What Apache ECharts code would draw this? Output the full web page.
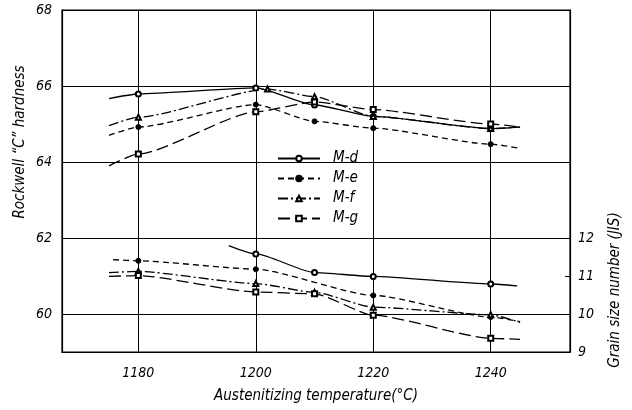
<!DOCTYPE html>
<html><head><meta charset="utf-8">
<script src="https://cdn.jsdelivr.net/npm/echarts@6/dist/echarts.min.js"></script>
<style>html,body{margin:0;padding:0;background:#fff}#c{width:632px;height:410px}</style>
</head><body><div id="c"></div>
<script>
const seriesNames = ['M-d', 'M-e', 'M-f', 'M-g'];
const xTicks = [1180, 1200, 1220, 1240];
const hardTicks = [60, 62, 64, 66, 68];
const grainTicks = [9, 10, 11, 12];
const grainMinorTicks = [10, 11];
const xName = 'Austenitizing temperature(°C)';
const yName = 'Rockwell “C” hardness';
const y2Name = 'Grain size number (JIS)';

// Hardness curves (first and last entries are the drawn curve ends, without markers)
const mdHardT = [1175, 1180, 1200, 1210, 1220, 1240, 1245];
const mdHard  = [65.67, 65.79, 65.95, 65.50, 65.20, 64.88, 64.92];
const meHardT = [1175, 1180, 1200, 1210, 1220, 1240, 1245];
const meHard  = [64.70, 64.92, 65.51, 65.07, 64.89, 64.47, 64.36];
const mfHardT = [1175, 1180, 1202, 1210, 1220, 1240, 1245];
const mfHard  = [64.96, 65.18, 65.92, 65.72, 65.20, 64.88, 64.92];
const mgHardT = [1175, 1180, 1200, 1210, 1220, 1240, 1245];
const mgHard  = [63.90, 64.21, 65.32, 65.58, 65.38, 65.00, 64.92];

// Grain size curves (first and last entries are the drawn curve ends, without markers)
const mdGrainT = [1195.4, 1200, 1210, 1220, 1240, 1244.5];
const mdGrain  = [11.80, 11.58, 11.09, 10.99, 10.79, 10.74];
const meGrainT = [1175.7, 1180, 1200, 1220, 1240, 1245];
const meGrain  = [11.43, 11.40, 11.18, 10.49, 9.92, 9.80];
const mfGrainT = [1175, 1180, 1200, 1210, 1220, 1240, 1245];
const mfGrain  = [11.09, 11.12, 10.80, 10.57, 10.18, 9.98, 9.78];
const mgGrainT = [1175, 1180, 1200, 1210, 1220, 1240, 1245];
const mgGrain  = [10.99, 11.01, 10.58, 10.53, 9.97, 9.36, 9.33];

const FONT = "'DejaVu Sans Condensed', 'Liberation Sans Narrow', 'DejaVu Sans', sans-serif";
const styles = {
  'M-d': { symbol: 'emptyCircle', dash: 'solid' },
  'M-e': { symbol: 'circle', dash: [6, 4] },
  'M-f': { symbol: 'emptyTriangle', dash: [10, 3, 2, 3] },
  'M-g': { symbol: 'emptyRect', dash: [12, 5] }
};

function mk(name, T, V, yIdx) {
  const st = styles[name];
  return {
    name, type: 'line', yAxisIndex: yIdx, smooth: 0.2, smoothMonotone: 'x',
    symbol: st.symbol, symbolSize: 5,
    data: T.map((t, i) => {
      const d = { value: [t, V[i]] };
      if (i === 0 || i === T.length - 1) d.symbol = 'none';
      return d;
    }),
    itemStyle: { color: '#000', borderColor: '#000', borderWidth: 1 },
    lineStyle: { color: '#000', width: 1.3, type: st.dash },
    emphasis: { disabled: true },
    animation: false
  };
}

const chart = echarts.init(document.getElementById('c'));
chart.setOption({
  backgroundColor: '#fff',
  animation: false,
  grid: { left: 62, right: 62, top: 10, bottom: 58, show: true, borderColor: '#000', borderWidth: 1.2, backgroundColor: 'transparent' },
  legend: {
    data: seriesNames, orient: 'vertical', left: 272, top: 146,
    itemWidth: 42, itemHeight: 7, itemGap: 5,
    textStyle: { fontFamily: FONT, fontStyle: 'italic', fontSize: 15, color: '#000', padding: [0, 0, 0, 8] },
    selectedMode: false
  },
  xAxis: {
    type: 'value', min: 1167, max: 1253.5,
    axisLine: { show: true, lineStyle: { color: '#000', width: 1.2 } },
    axisTick: { show: false, customValues: xTicks },
    axisLabel: { customValues: xTicks, formatter: v => String(v), fontFamily: FONT, fontStyle: 'italic', fontSize: 14, color: '#000', margin: 14 },
    splitLine: { show: true, lineStyle: { color: '#000', width: 1 } }
  },
  yAxis: [{
    type: 'value', min: 59, max: 68, position: 'left',
    axisLine: { show: true, lineStyle: { color: '#000', width: 1.2 } },
    axisTick: { show: false, customValues: hardTicks },
    axisLabel: { customValues: hardTicks, fontFamily: FONT, fontStyle: 'italic', fontSize: 14, color: '#000', margin: 10 },
    splitLine: { show: true, lineStyle: { color: '#000', width: 1 } }
  }, {
    type: 'value', min: 9, max: 18, position: 'right',
    axisLine: { show: true, lineStyle: { color: '#000', width: 1.2 } },
    axisTick: { show: true, inside: true, length: 5, customValues: grainMinorTicks, lineStyle: { color: '#000' } },
    axisLabel: { customValues: grainTicks, fontFamily: FONT, fontStyle: 'italic', fontSize: 14, color: '#000', margin: 8 },
    splitLine: { show: false }
  }],
  graphic: [
    { type: 'text', left: 'center', top: 389, style: { text: xName, font: 'italic 15px ' + FONT, fill: '#000' } },
    { type: 'text', x: 20, y: 142, rotation: Math.PI / 2, style: { text: yName, font: 'italic 15px ' + FONT, fill: '#000', align: 'center', verticalAlign: 'middle' } },
    { type: 'text', x: 615, y: 290, rotation: Math.PI / 2, style: { text: y2Name, font: 'italic 15px ' + FONT, fill: '#000', align: 'center', verticalAlign: 'middle' } }
  ],
  series: [
    mk('M-d', mdHardT, mdHard, 0), mk('M-e', meHardT, meHard, 0),
    mk('M-f', mfHardT, mfHard, 0), mk('M-g', mgHardT, mgHard, 0),
    mk('M-d', mdGrainT, mdGrain, 1), mk('M-e', meGrainT, meGrain, 1),
    mk('M-f', mfGrainT, mfGrain, 1), mk('M-g', mgGrainT, mgGrain, 1)
  ]
});
</script></body></html>
